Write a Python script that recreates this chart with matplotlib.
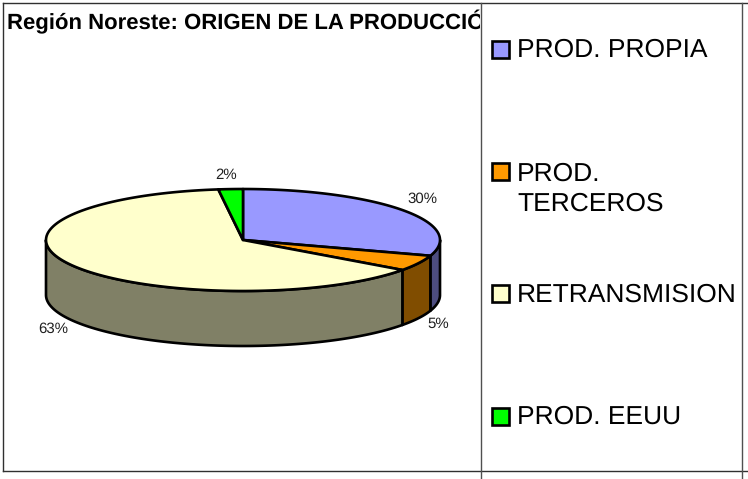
import numpy as np
import matplotlib
matplotlib.use('Agg')
import matplotlib.pyplot as plt
from matplotlib.patches import Polygon, Rectangle

plt.rcParams['font.family'] = ['Liberation Sans', 'DejaVu Sans']
plt.rcParams['text.hinting'] = 'none'

title = 'Región Noreste: ORIGEN DE LA PRODUCCIÓN'
categories = ['PROD. PROPIA', 'PROD.\nTERCEROS', 'RETRANSMISION', 'PROD. EEUU']
values = [30, 5, 63, 2]
top_colors = ['#9999FF', '#FF9900', '#FFFFCC', '#00FF00']
side_colors = ['#4D4D80', '#804D00', '#808066', '#008000']

# pie geometry in pixels
cx, cy = 243, 240
rx, ry = 197, 51
depth = 55

def arc(a, b, dy=0):
    t = np.radians(np.linspace(a, b, 120))
    return np.column_stack([cx + rx * np.sin(t), cy + dy - ry * np.cos(t)])

fig = plt.figure(figsize=(7.48, 4.79), dpi=100)
ax = fig.add_axes([0, 0, 1, 1])
ax.set_xlim(0, 748)
ax.set_ylim(479, 0)
ax.axis('off')

# table cell lines
line = dict(color='#303030', lw=1.0)
ax.plot([3, 748], [3, 3], **line)
ax.plot([3, 748], [471, 471], **line)
ax.plot([3, 3], [3, 471], **line)
ax.plot([481, 481], [3, 479], color='#505050', lw=1.0)
ax.plot([742, 742], [3, 479], color='#505050', lw=1.0)

edges = np.cumsum([0] + values) * 3.6

# sides first, only the front half of the pie shows
for i in range(len(values)):
    a, b = max(edges[i], 90), min(edges[i + 1], 270)
    if a < b:
        pts = np.vstack([arc(a, b), arc(b, a, depth)])
        ax.add_patch(Polygon(pts, closed=True, fc=side_colors[i], ec='black', lw=1.9, joinstyle='round'))

for i in range(len(values)):
    pts = np.vstack([[cx, cy], arc(edges[i], edges[i + 1])])
    ax.add_patch(Polygon(pts, closed=True, fc=top_colors[i], ec='black', lw=1.9, joinstyle='round'))

# percent labels
label_pos = [(422, 199), (438, 324), (53, 329), (226, 175)]
for v, (x, y) in zip(values, label_pos):
    ax.text(x, y, f'{v}%', fontsize=10.8, color='#202020', ha='center', va='center')

# title is cut off by the cell border
clip = Rectangle((0, 0), 480, 479, transform=ax.transData)
t = ax.text(7, 22, title, fontsize=15.9, fontweight='bold', color='black', ha='left', va='center')
t.set_clip_path(clip)
t.set_clip_on(True)

# legend
box_y = [49, 171, 293, 416]
text_y = [50, 174, 295, 417]
for name, c, y, ty in zip(categories, top_colors, box_y, text_y):
    ax.add_patch(Rectangle((492, y - 8.5), 17, 17, fc=c, ec='black', lw=1.9))
    if '\n' in name:
        first, second = name.split('\n')
        ax.text(517, ty, first, fontsize=19, ha='left', va='center', color='black')
        ax.text(517, ty + 30, second, fontsize=19, ha='left', va='center', color='black')
    else:
        ax.text(517, ty, name, fontsize=19, ha='left', va='center', color='black')

fig.savefig('out.png', dpi=100)
